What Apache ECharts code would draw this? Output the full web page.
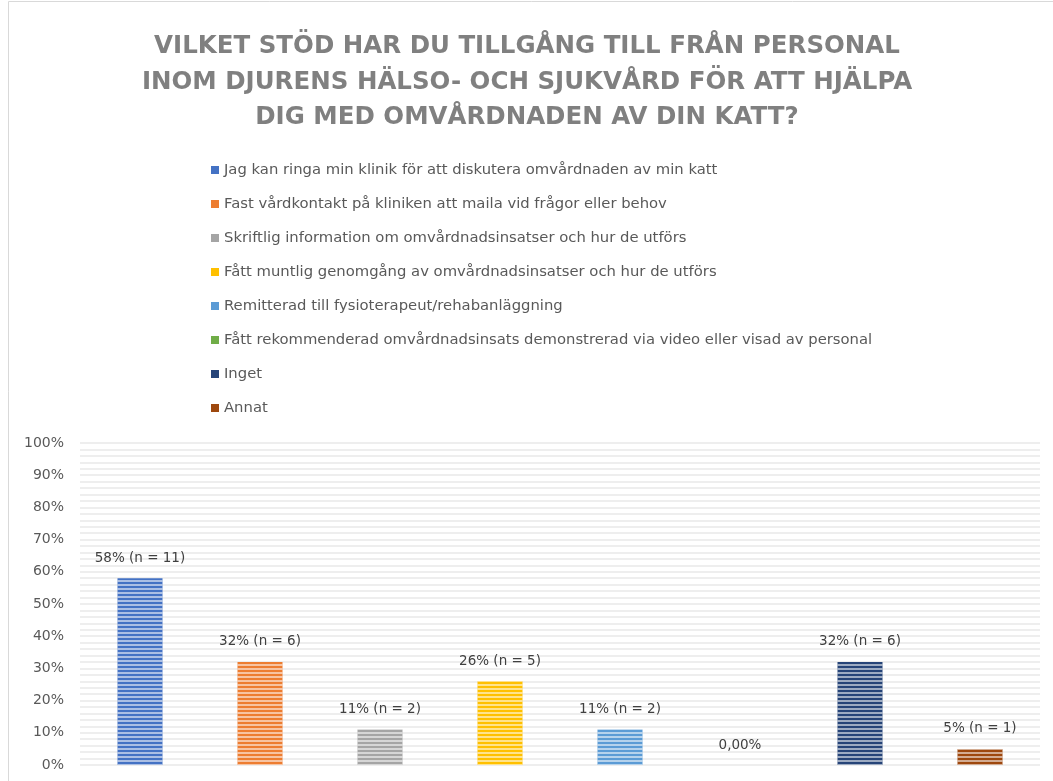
<!DOCTYPE html>
<html><head><meta charset="utf-8">
<script src="https://cdn.jsdelivr.net/npm/echarts@6/dist/echarts.min.js"></script>
<style>html,body{margin:0;padding:0;background:#fff}#c{width:1053px;height:781px}</style>
</head><body><div id="c"></div>
<script>
const titleLines = [
  'VILKET STÖD HAR DU TILLGÅNG TILL FRÅN PERSONAL',
  'INOM DJURENS HÄLSO- OCH SJUKVÅRD FÖR ATT HJÄLPA',
  'DIG MED OMVÅRDNADEN AV DIN KATT?'
];
const categories = [
  'Jag kan ringa min klinik för att diskutera omvårdnaden av min katt',
  'Fast vårdkontakt på kliniken att maila vid frågor eller behov',
  'Skriftlig information om omvårdnadsinsatser och hur de utförs',
  'Fått muntlig genomgång av omvårdnadsinsatser och hur de utförs',
  'Remitterad till fysioterapeut/rehabanläggning',
  'Fått rekommenderad omvårdnadsinsats demonstrerad via video eller visad av personal',
  'Inget',
  'Annat'
];
const values = [58, 32, 11, 26, 11, 0, 32, 5];
const counts = [11, 6, 2, 5, 2, 0, 6, 1];
const colors = ['#4472C4','#ED7D31','#A5A5A5','#FFC000','#5B9BD5','#70AD47','#264478','#9E480E'];

const FONT = 'DejaVu Sans';
const chart = echarts.init(document.getElementById('c'));
const series = categories.map((name, i) => ({
  name: name,
  type: 'bar',
  stack: 'all',
  barWidth: 45,
  data: categories.map((_, j) => j === i ? values[i] : '-'),
  itemStyle: {
    color: colors[i],
    decal: { symbol: 'rect', symbolSize: 1, dashArrayX: [1, 0], dashArrayY: [2, 2], rotation: 0, color: 'rgba(255,255,255,0.55)' }
  },
  label: {
    show: true, position: 'top', distance: 13,
    fontFamily: FONT, fontSize: 13.5, color: '#404040',
    formatter: p => values[i] === 0 ? '0,00%' : values[i] + '% (n = ' + counts[i] + ')'
  }
}));

chart.setOption({
  animation: false,
  textStyle: { fontFamily: FONT },
  legend: {
    orient: 'vertical', left: 206, top: 156, itemGap: 16,
    itemWidth: 8, itemHeight: 8, icon: 'rect',
    textStyle: { fontFamily: FONT, fontSize: 14.8, color: '#595959', lineHeight: 18 },
    data: categories.map((c, i) => ({ name: c, itemStyle: { color: colors[i], decal: 'none' } }))
  },
  grid: { left: 80, right: 13, top: 443, bottom: 16 },
  xAxis: {
    type: 'category', data: categories,
    axisLabel: { show: false }, axisTick: { show: false }, axisLine: { show: false }
  },
  yAxis: {
    type: 'value', min: 0, max: 100, interval: 10,
    axisLabel: { formatter: '{value}%', fontFamily: FONT, fontSize: 14, color: '#595959', margin: 16 },
    axisLine: { show: false }, axisTick: { show: false },
    splitLine: { lineStyle: { color: '#eeeeee', width: 2 } },
    minorTick: { show: false, splitNumber: 5 },
    minorSplitLine: { show: true, lineStyle: { color: '#eeeeee', width: 2 } }
  },
  graphic: [{
    type: 'rect', shape: { x: 8.5, y: 1.5, width: 1060, height: 800 },
    style: { fill: 'none', stroke: '#d9d9d9', lineWidth: 1 }, silent: true, z: -1
  }].concat(titleLines.map((t, k) => ({
    type: 'text', x: 527, y: 47 + k * 35.5,
    style: {
      text: t, align: 'center', verticalAlign: 'middle', fill: '#808080',
      font: 'bold 24.5px "DejaVu Sans"'
    }
  }))),
  series: series
});
</script></body></html>
